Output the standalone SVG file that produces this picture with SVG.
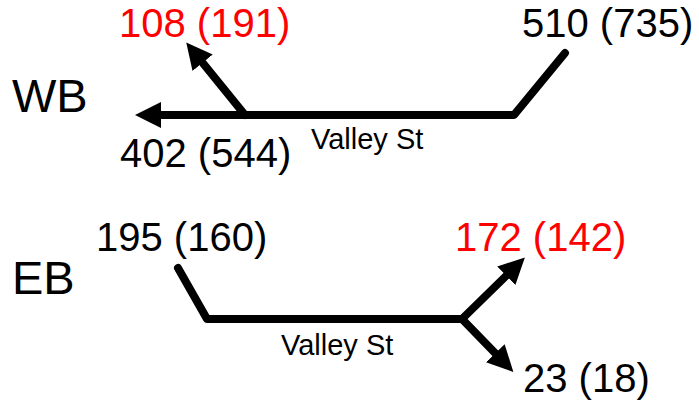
<svg xmlns="http://www.w3.org/2000/svg" width="699" height="406" viewBox="0 0 699 406">
  <style>
    .road { fill: none; stroke: #000; stroke-width: 8; stroke-linejoin: round; stroke-linecap: round; }
    .vol { font-family: "Liberation Sans", Arial, sans-serif; font-size: 40px; fill: #000; }
    .vol.hi { fill: #ff0000; }
    .dir { font-family: "Liberation Sans", Arial, sans-serif; font-size: 47px; fill: #000; }
    .street { font-family: "Liberation Sans", Arial, sans-serif; font-size: 29px; fill: #000; }
  </style>
  <defs>
    <marker id="head" markerUnits="userSpaceOnUse" markerWidth="27" markerHeight="26" refX="1" refY="13" orient="auto">
      <path d="M0,0 L26,13 L0,26 Z" fill="#000"/>
    </marker>
  </defs>

  <g id="connectors">
    <!-- westbound movements -->
    <path class="road" d="M565,53 L514,115 L160,115" marker-end="url(#head)"/>
    <path class="road" d="M245,115 L202,62" marker-end="url(#head)"/>
    <!-- eastbound movements -->
    <path class="road" d="M178,268 L207,319 L462,319"/>
    <path class="road" d="M462,319 L507,275" marker-end="url(#head)"/>
    <path class="road" d="M462,319 L496,354" marker-end="url(#head)"/>
  </g>

  <g id="wb-label"><text class="dir" x="12" y="112">WB</text></g>
  <g id="wb-left"><text class="vol hi" x="119" y="37">108 (191)</text></g>
  <g id="wb-in"><text class="vol" x="522" y="37">510 (735)</text></g>
  <g id="wb-through"><text class="vol" x="120" y="167">402 (544)</text></g>
  <g id="wb-street"><text class="street" x="311" y="149">Valley St</text></g>

  <g id="eb-label"><text class="dir" x="12" y="294">EB</text></g>
  <g id="eb-in"><text class="vol" x="96" y="251">195 (160)</text></g>
  <g id="eb-left"><text class="vol hi" x="455" y="251">172 (142)</text></g>
  <g id="eb-right"><text class="vol" x="523" y="392">23 (18)</text></g>
  <g id="eb-street"><text class="street" x="281" y="355">Valley St</text></g>
</svg>
